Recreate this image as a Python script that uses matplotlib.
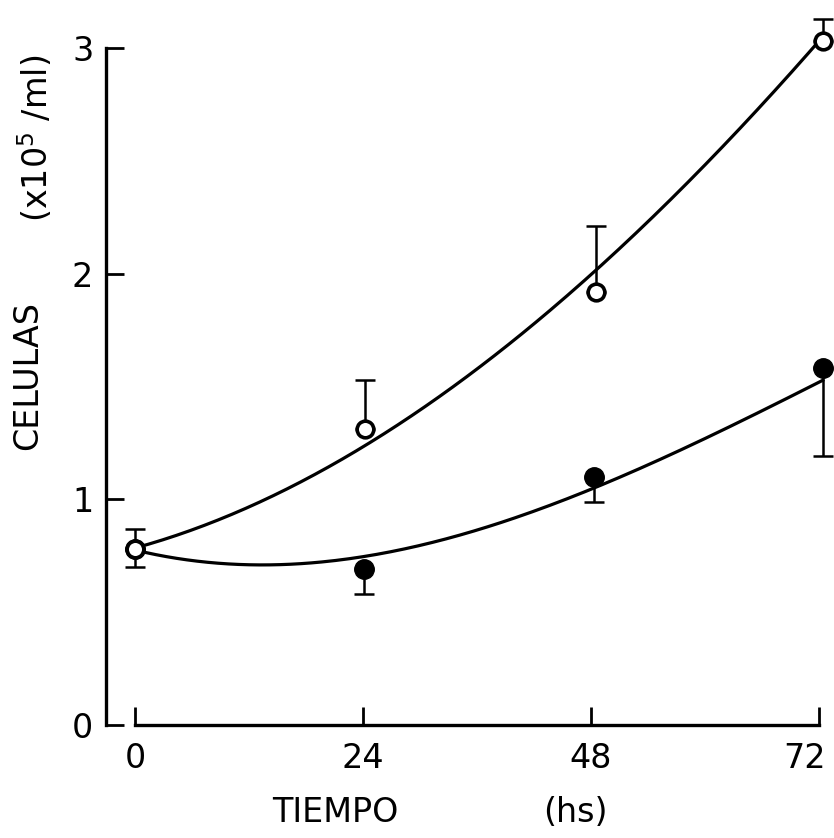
import numpy as np
import matplotlib
matplotlib.use('Agg')
import matplotlib.pyplot as plt
import matplotlib.transforms as mtransforms

# time (hs) where the points were drawn
t_open = [0, 24.2, 48.5, 72.4]
t_fill = [0, 24.1, 48.3, 72.4]

# cells x10^5/ml
open_y = [0.78, 1.31, 1.92, 3.03]
open_err = [0.09, 0.22, 0.29, 0.10]      # upper bars only
fill_y = [0.78, 0.69, 1.10, 1.58]
fill_err = [0.08, 0.11, 0.11, 0.39]      # lower bars only

# smooth curves
curve_t = [0, 12, 24, 48, 72]
curve_open = [0.78, 0.98, 1.22, 2.00, 3.03]
curve_fill = [0.78, 0.695, 0.76, 1.04, 1.52]

xticks = [0, 24, 48, 72]
yticks = [0, 1, 2, 3]

plt.rcParams['font.family'] = ['DejaVu Sans']

fig = plt.figure(figsize=(8.34, 8.38), dpi=100)
ax = fig.add_axes([135 / 834, 1 - 725 / 838, (819 - 135) / 834, (725 - 48) / 838])

tt = np.linspace(0, 72.4, 200)
p1 = np.polyfit(curve_t, curve_open, 3)
p2 = np.polyfit(curve_t, curve_fill, 3)
ax.plot(tt, np.polyval(p1, tt), color='black', lw=2.3, clip_on=False)
ax.plot(tt, np.polyval(p2, tt), color='black', lw=2.3, clip_on=False)

zeros = [0, 0, 0, 0]
ax.errorbar(t_open, open_y, yerr=[zeros, open_err], fmt='none', ecolor='black',
            elinewidth=1.8, capsize=7, capthick=1.8, clip_on=False)
ax.errorbar(t_fill, fill_y, yerr=[fill_err, zeros], fmt='none', ecolor='black',
            elinewidth=1.8, capsize=7, capthick=1.8, clip_on=False)
ax.plot(t_fill, fill_y, 'o', ms=14, color='black', clip_on=False, zorder=5)
ax.plot(t_open, open_y, 'o', ms=12, mfc='white', mec='black', mew=2.6,
        clip_on=False, zorder=6)

ax.set_xlim(0, 72)
ax.set_ylim(0, 3)
ax.set_xticks(xticks)
ax.set_yticks(yticks)

for s in ['top', 'right']:
    ax.spines[s].set_visible(False)
ax.spines['left'].set_position(('outward', 21))
ax.spines['left'].set_linewidth(2.4)
ax.spines['bottom'].set_linewidth(2.4)
ax.tick_params(direction='in', length=13, width=2, labelsize=24, pad=9)
ax.tick_params(axis='x', pad=12)

# last x label sits a bit left of its tick in the original
last = ax.get_xticklabels()[-1]
last.set_transform(last.get_transform() +
                   mtransforms.ScaledTranslation(-14 / 100, 0, fig.dpi_scale_trans))

fig.text(335 / 834, 1 - 812 / 838, 'TIEMPO', fontsize=24, ha='center', va='center')
fig.text(575 / 834, 1 - 812 / 838, '(hs)', fontsize=24, ha='center', va='center')
fig.text(28 / 834, 1 - 375 / 838, 'CELULAS', fontsize=24, rotation=90, ha='center', va='center')
fig.text(36 / 834, 1 - 138 / 838, r'(x10$^{5}$ /ml)', fontsize=24, rotation=90,
         ha='center', va='center')

fig.savefig('out.png', dpi=100)
